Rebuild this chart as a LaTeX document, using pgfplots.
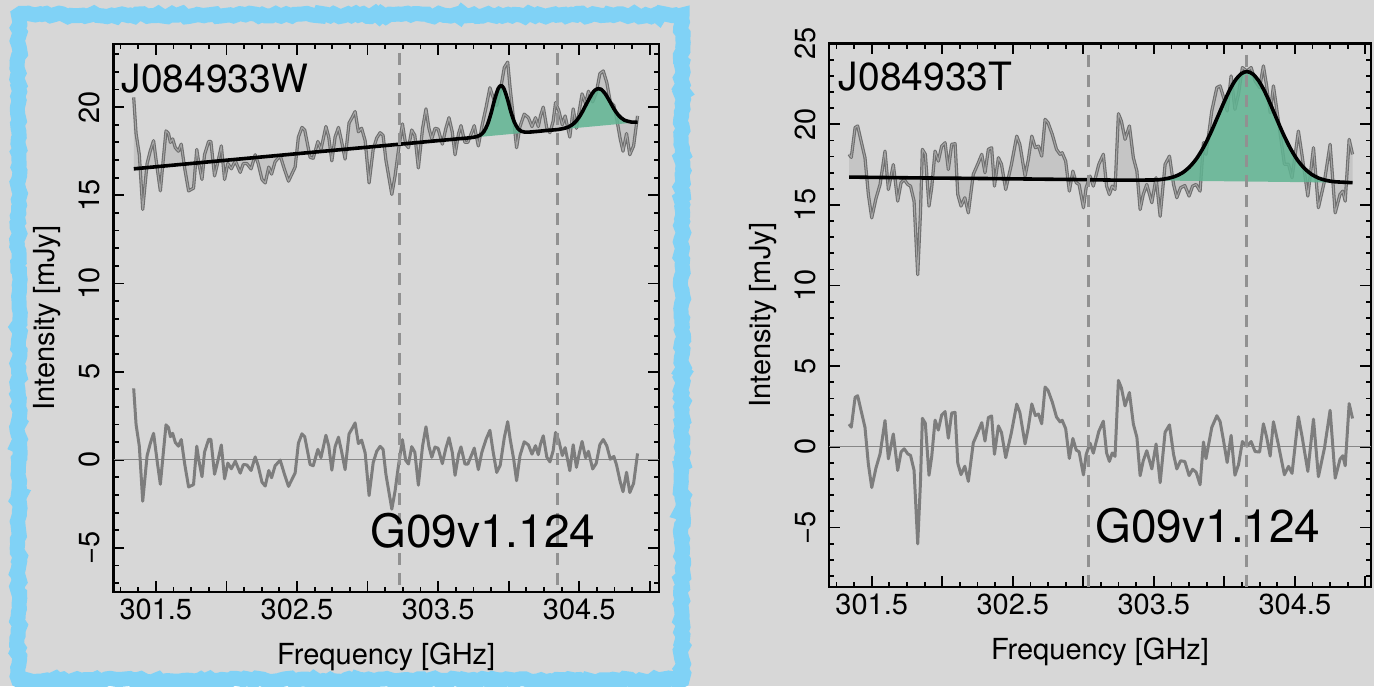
\documentclass[border=0pt]{standalone}
\usepackage{fontspec}
\setmainfont{TeX Gyre Heros}
\usepackage{pgfplots}
\pgfplotsset{compat=1.18}
\usepackage{pgfplotstable}
\usetikzlibrary{decorations.pathmorphing}

\definecolor{bg}{RGB}{215,215,215}
\definecolor{frameblue}{RGB}{128,210,246}
\definecolor{specdark}{RGB}{110,110,110}
\definecolor{speclight}{RGB}{165,165,165}
\definecolor{specfill}{RGB}{197,197,197}
\definecolor{resgray}{RGB}{125,125,125}
\definecolor{dashgray}{RGB}{145,145,145}
\definecolor{zerogray}{RGB}{135,135,135}
\definecolor{linegreen}{RGB}{96,180,146}

% ---------- left panel: spectrum (s) and residual (r) ----------
\pgfplotstableread{
x s r
301.343 20.55 4.05
301.360 18.50 1.99
301.383 17.30 0.77
301.407 14.20 -2.35
301.438 16.80 0.23
301.460 17.50 0.91
301.484 18.10 1.50
301.510 16.50 -0.12
301.532 15.25 -1.39
301.550 16.80 0.15
301.572 18.65 1.98
301.590 18.50 1.82
301.603 18.00 1.31
301.619 18.20 1.50
301.638 17.70 0.98
301.660 17.50 0.77
301.680 17.90 1.15
301.705 16.50 -0.27
301.732 15.25 -1.54
301.767 15.40 -1.41
301.790 17.60 0.77
301.805 16.80 -0.04
301.827 15.90 -0.96
301.845 17.30 0.43
301.874 18.05 1.16
301.890 18.05 1.15
301.916 16.10 -0.82
301.940 16.90 -0.04
301.964 17.80 0.84
301.987 15.90 -1.08
302.010 16.80 -0.19
302.035 16.50 -0.51
302.063 16.95 -0.08
302.098 16.30 -0.76
302.120 16.80 -0.27
302.145 16.80 -0.29
302.175 16.50 -0.61
302.204 17.30 0.16
302.225 16.80 -0.35
302.252 15.90 -1.27
302.275 15.70 -1.49
302.300 16.60 -0.61
302.320 16.20 -1.02
302.345 16.90 -0.34
302.381 17.25 -0.02
302.410 16.50 -0.79
302.440 15.80 -1.51
302.487 16.60 -0.75
302.510 18.30 0.94
302.535 18.85 1.47
302.555 18.70 1.30
302.593 17.15 -0.27
302.615 17.10 -0.34
302.648 18.05 0.59
302.670 17.60 0.12
302.705 18.90 1.39
302.725 18.30 0.78
302.747 16.95 -0.59
302.770 18.30 0.74
302.794 18.85 1.28
302.815 18.10 0.51
302.841 17.05 -0.56
302.869 19.10 1.47
302.890 19.40 1.76
302.912 19.75 2.09
302.935 18.60 0.92
302.958 18.80 1.11
302.983 18.10 0.39
303.011 15.70 -2.03
303.040 17.60 -0.16
303.065 18.25 0.48
303.089 18.55 0.76
303.110 18.40 0.59
303.130 17.00 -0.82
303.172 15.05 -2.80
303.195 16.10 -1.77
303.218 17.50 -0.39
303.247 19.05 1.14
303.270 17.90 -0.03
303.290 17.70 -0.24
303.313 18.70 0.74
303.335 18.40 0.43
303.360 16.55 -1.44
303.390 18.80 0.79
303.414 19.90 1.87
303.435 18.80 0.75
303.455 18.20 0.14
303.478 18.80 0.72
303.500 18.75 0.65
303.530 17.90 -0.22
303.555 18.80 0.66
303.577 19.40 1.25
303.600 18.60 0.43
303.620 17.30 -0.88
303.645 18.50 0.30
303.662 18.95 0.73
303.690 18.00 -0.24
303.710 18.00 -0.25
303.740 18.60 0.33
303.756 18.95 0.66
303.785 17.80 -0.56
303.810 18.90 0.43
303.840 20.00 1.17
303.867 21.10 1.67
303.890 20.55 0.44
303.915 20.10 -0.72
303.940 20.90 -0.31
303.969 22.25 1.26
303.993 22.55 2.16
304.010 21.10 1.20
304.035 19.30 0.05
304.056 17.70 -1.19
304.080 18.90 0.23
304.110 19.60 1.02
304.140 19.40 0.84
304.165 18.90 0.32
304.190 19.40 0.80
304.210 18.90 0.29
304.225 19.50 0.88
304.245 20.00 1.36
304.270 18.80 0.15
304.292 18.55 -0.12
304.315 19.20 0.51
304.332 20.25 1.55
304.355 19.80 1.08
304.380 19.00 0.24
304.400 19.50 0.69
304.433 18.30 -0.62
304.457 19.90 0.85
304.480 18.80 -0.43
304.500 19.80 0.36
304.520 20.75 1.04
304.545 20.20 0.11
304.565 20.90 0.48
304.595 20.30 -0.52
304.620 20.80 -0.21
304.646 21.90 0.86
304.670 22.05 1.15
304.695 21.40 0.79
304.720 20.30 0.03
304.745 20.10 0.19
304.764 19.40 -0.29
304.790 18.20 -1.24
304.810 17.50 -1.81
304.835 18.50 -0.71
304.858 17.30 -1.86
304.885 17.80 -1.34
304.913 19.50 0.36
}\dataL

% left panel: fitted model (continuum + two Gaussians)
\pgfplotstableread{
x f
301.344 16.50
301.800 16.84
302.300 17.21
302.800 17.58
303.300 17.95
303.500 18.10
303.600 18.17
303.650 18.21
303.700 18.24
303.750 18.29
303.775 18.33
303.800 18.42
303.825 18.62
303.850 19.02
303.875 19.65
303.900 20.42
303.925 21.04
303.945 21.22
303.965 21.07
303.990 20.49
304.015 19.75
304.040 19.15
304.065 18.79
304.090 18.63
304.115 18.58
304.140 18.58
304.200 18.62
304.275 18.68
304.350 18.73
304.400 18.81
304.425 18.88
304.450 19.00
304.475 19.18
304.500 19.44
304.525 19.78
304.550 20.17
304.590 20.75
304.610 20.95
304.634 21.05
304.655 21.01
304.680 20.80
304.700 20.55
304.720 20.27
304.745 19.91
304.770 19.62
304.795 19.40
304.820 19.26
304.870 19.15
304.913 19.15
}\fitL

% left panel: region between spectrum and model (spectrum, then model backwards)
\pgfplotstableread{
x y
301.343 20.55
301.360 18.50
301.383 17.30
301.407 14.20
301.438 16.80
301.460 17.50
301.484 18.10
301.510 16.50
301.532 15.25
301.550 16.80
301.572 18.65
301.590 18.50
301.603 18.00
301.619 18.20
301.638 17.70
301.660 17.50
301.680 17.90
301.705 16.50
301.732 15.25
301.767 15.40
301.790 17.60
301.805 16.80
301.827 15.90
301.845 17.30
301.874 18.05
301.890 18.05
301.916 16.10
301.940 16.90
301.964 17.80
301.987 15.90
302.010 16.80
302.035 16.50
302.063 16.95
302.098 16.30
302.120 16.80
302.145 16.80
302.175 16.50
302.204 17.30
302.225 16.80
302.252 15.90
302.275 15.70
302.300 16.60
302.320 16.20
302.345 16.90
302.381 17.25
302.410 16.50
302.440 15.80
302.487 16.60
302.510 18.30
302.535 18.85
302.555 18.70
302.593 17.15
302.615 17.10
302.648 18.05
302.670 17.60
302.705 18.90
302.725 18.30
302.747 16.95
302.770 18.30
302.794 18.85
302.815 18.10
302.841 17.05
302.869 19.10
302.890 19.40
302.912 19.75
302.935 18.60
302.958 18.80
302.983 18.10
303.011 15.70
303.040 17.60
303.065 18.25
303.089 18.55
303.110 18.40
303.130 17.00
303.172 15.05
303.195 16.10
303.218 17.50
303.247 19.05
303.270 17.90
303.290 17.70
303.313 18.70
303.335 18.40
303.360 16.55
303.390 18.80
303.414 19.90
303.435 18.80
303.455 18.20
303.478 18.80
303.500 18.75
303.530 17.90
303.555 18.80
303.577 19.40
303.600 18.60
303.620 17.30
303.645 18.50
303.662 18.95
303.690 18.00
303.710 18.00
303.740 18.60
303.756 18.95
303.785 17.80
303.810 18.90
303.840 20.00
303.867 21.10
303.890 20.55
303.915 20.10
303.940 20.90
303.969 22.25
303.993 22.55
304.010 21.10
304.035 19.30
304.056 17.70
304.080 18.90
304.110 19.60
304.140 19.40
304.165 18.90
304.190 19.40
304.210 18.90
304.225 19.50
304.245 20.00
304.270 18.80
304.292 18.55
304.315 19.20
304.332 20.25
304.355 19.80
304.380 19.00
304.400 19.50
304.433 18.30
304.457 19.90
304.480 18.80
304.500 19.80
304.520 20.75
304.545 20.20
304.565 20.90
304.595 20.30
304.620 20.80
304.646 21.90
304.670 22.05
304.695 21.40
304.720 20.30
304.745 20.10
304.764 19.40
304.790 18.20
304.810 17.50
304.835 18.50
304.858 17.30
304.885 17.80
304.913 19.50
304.913 19.15
304.870 19.15
304.820 19.26
304.795 19.40
304.770 19.62
304.745 19.91
304.720 20.27
304.700 20.55
304.680 20.80
304.655 21.01
304.634 21.05
304.610 20.95
304.590 20.75
304.550 20.17
304.525 19.78
304.500 19.44
304.475 19.18
304.450 19.00
304.425 18.88
304.400 18.81
304.350 18.73
304.140 18.58
304.115 18.58
304.090 18.63
304.065 18.79
304.040 19.15
304.015 19.75
303.990 20.49
303.965 21.07
303.945 21.22
303.925 21.04
303.900 20.42
303.875 19.65
303.850 19.02
303.825 18.62
303.800 18.42
303.775 18.33
303.750 18.29
303.700 18.24
301.344 16.50
}\polyL

% left panel: line emission (model above continuum)
\pgfplotstableread{
x y
303.700 18.24
303.750 18.29
303.775 18.33
303.800 18.42
303.825 18.62
303.850 19.02
303.875 19.65
303.900 20.42
303.925 21.04
303.945 21.22
303.965 21.07
303.990 20.49
304.015 19.75
304.040 19.15
304.065 18.79
304.090 18.63
304.115 18.58
304.140 18.58
304.350 18.73
304.400 18.81
304.425 18.88
304.450 19.00
304.475 19.18
304.500 19.44
304.525 19.78
304.550 20.17
304.590 20.75
304.610 20.95
304.634 21.05
304.655 21.01
304.680 20.80
304.700 20.55
304.720 20.27
304.745 19.91
304.770 19.62
304.795 19.40
304.820 19.26
304.870 19.15
304.913 19.15
304.913 19.14
303.700 18.24
}\greenL

% ---------- right panel ----------
\pgfplotstableread{
x s r
301.339 18.14 1.41
301.355 17.95 1.22
301.382 19.80 3.07
301.400 19.90 3.17
301.430 18.76 2.04
301.452 17.93 1.21
301.476 15.65 -1.07
301.500 14.20 -2.52
301.530 15.40 -1.31
301.559 16.27 -0.44
301.594 18.34 1.63
301.618 15.96 -0.74
301.653 17.50 0.80
301.684 15.24 -1.46
301.708 16.38 -0.32
301.730 16.58 -0.12
301.755 16.27 -0.43
301.775 16.17 -0.53
301.800 15.24 -1.45
301.826 10.68 -6.01
301.845 14.41 -2.29
301.859 18.45 1.77
301.880 18.14 1.46
301.906 14.93 -1.76
301.925 16.07 -0.62
301.949 18.34 1.66
301.972 17.72 1.04
301.996 18.65 1.98
302.020 18.86 2.19
302.043 17.20 0.54
302.067 18.76 2.10
302.091 18.80 2.14
302.110 15.65 -1.01
302.133 14.93 -1.72
302.160 15.45 -1.20
302.185 14.51 -2.14
302.220 16.90 0.25
302.256 17.62 0.98
302.280 18.14 1.50
302.303 17.00 0.36
302.327 18.45 1.82
302.350 18.55 1.92
302.370 16.17 -0.46
302.398 17.93 1.30
302.420 17.52 0.89
302.450 15.96 -0.67
302.490 17.50 0.88
302.528 19.27 2.65
302.550 18.76 2.14
302.587 16.79 0.18
302.610 17.80 1.19
302.635 19.27 2.66
302.660 18.55 1.94
302.682 18.65 2.04
302.705 18.03 1.43
302.729 20.31 3.71
302.750 20.10 3.50
302.780 19.38 2.78
302.810 18.45 1.85
302.835 18.14 1.55
302.850 18.24 1.65
302.875 17.72 1.13
302.901 15.86 -0.72
302.926 17.10 0.52
302.950 16.38 -0.20
302.970 16.27 -0.30
303.001 14.83 -1.74
303.020 16.07 -0.49
303.048 16.79 0.23
303.071 16.17 -0.39
303.110 17.52 0.96
303.142 18.14 1.59
303.165 16.17 -0.38
303.185 15.65 -0.90
303.205 16.17 -0.38
303.225 15.96 -0.59
303.249 20.66 4.12
303.270 20.20 3.66
303.296 19.07 2.54
303.327 19.90 3.37
303.355 17.93 1.41
303.380 17.10 0.59
303.403 14.72 -1.79
303.425 15.65 -0.86
303.450 16.27 -0.24
303.486 15.14 -1.37
303.516 16.69 0.18
303.545 14.30 -2.22
303.580 17.52 0.91
303.611 18.03 1.36
303.640 16.27 -0.47
303.663 15.45 -1.37
303.690 16.07 -0.86
303.720 16.20 -0.91
303.750 15.55 -1.78
303.775 16.17 -1.39
303.800 16.27 -1.57
303.828 15.86 -2.35
303.852 18.86 0.30
303.870 18.14 -0.73
303.911 20.83 1.21
303.947 22.28 1.93
303.970 22.38 1.57
303.995 21.66 0.35
304.020 20.83 -0.97
304.048 23.00 0.71
304.075 20.93 -1.76
304.100 21.86 -1.12
304.128 23.52 0.33
304.160 23.31 0.04
304.190 23.52 0.33
304.218 22.69 -0.29
304.250 22.28 -0.32
304.277 23.62 1.43
304.300 22.38 0.60
304.325 20.72 -0.57
304.348 22.38 1.56
304.380 20.42 0.27
304.426 17.52 -1.73
304.455 17.52 -1.21
304.480 16.69 -1.64
304.525 19.58 1.87
304.550 18.14 0.70
304.592 15.55 -1.52
304.632 18.55 1.72
304.667 14.83 -1.85
304.710 16.48 -0.07
304.750 18.76 2.27
304.786 14.51 -1.94
304.820 15.65 -0.77
304.840 15.86 -0.55
304.857 15.24 -1.17
304.885 19.07 2.68
304.909 18.14 1.76
}\dataR

\pgfplotstableread{
x f
301.339 16.73
301.800 16.68
302.300 16.64
302.800 16.59
303.000 16.57
303.250 16.54
303.500 16.55
303.550 16.58
303.600 16.65
303.650 16.77
303.700 16.98
303.750 17.33
303.800 17.84
303.850 18.54
303.900 19.41
303.950 20.41
304.000 21.42
304.040 22.16
304.080 22.76
304.120 23.14
304.160 23.27
304.200 23.13
304.240 22.74
304.280 22.14
304.320 21.39
304.370 20.36
304.420 19.36
304.470 18.48
304.520 17.77
304.570 17.25
304.620 16.89
304.670 16.66
304.720 16.53
304.770 16.45
304.820 16.42
304.909 16.38
}\fitR

\pgfplotstableread{
x y
301.339 18.14
301.355 17.95
301.382 19.80
301.400 19.90
301.430 18.76
301.452 17.93
301.476 15.65
301.500 14.20
301.530 15.40
301.559 16.27
301.594 18.34
301.618 15.96
301.653 17.50
301.684 15.24
301.708 16.38
301.730 16.58
301.755 16.27
301.775 16.17
301.800 15.24
301.826 10.68
301.845 14.41
301.859 18.45
301.880 18.14
301.906 14.93
301.925 16.07
301.949 18.34
301.972 17.72
301.996 18.65
302.020 18.86
302.043 17.20
302.067 18.76
302.091 18.80
302.110 15.65
302.133 14.93
302.160 15.45
302.185 14.51
302.220 16.90
302.256 17.62
302.280 18.14
302.303 17.00
302.327 18.45
302.350 18.55
302.370 16.17
302.398 17.93
302.420 17.52
302.450 15.96
302.490 17.50
302.528 19.27
302.550 18.76
302.587 16.79
302.610 17.80
302.635 19.27
302.660 18.55
302.682 18.65
302.705 18.03
302.729 20.31
302.750 20.10
302.780 19.38
302.810 18.45
302.835 18.14
302.850 18.24
302.875 17.72
302.901 15.86
302.926 17.10
302.950 16.38
302.970 16.27
303.001 14.83
303.020 16.07
303.048 16.79
303.071 16.17
303.110 17.52
303.142 18.14
303.165 16.17
303.185 15.65
303.205 16.17
303.225 15.96
303.249 20.66
303.270 20.20
303.296 19.07
303.327 19.90
303.355 17.93
303.380 17.10
303.403 14.72
303.425 15.65
303.450 16.27
303.486 15.14
303.516 16.69
303.545 14.30
303.580 17.52
303.611 18.03
303.640 16.27
303.663 15.45
303.690 16.07
303.720 16.20
303.750 15.55
303.775 16.17
303.800 16.27
303.828 15.86
303.852 18.86
303.870 18.14
303.911 20.83
303.947 22.28
303.970 22.38
303.995 21.66
304.020 20.83
304.048 23.00
304.075 20.93
304.100 21.86
304.128 23.52
304.160 23.31
304.190 23.52
304.218 22.69
304.250 22.28
304.277 23.62
304.300 22.38
304.325 20.72
304.348 22.38
304.380 20.42
304.426 17.52
304.455 17.52
304.480 16.69
304.525 19.58
304.550 18.14
304.592 15.55
304.632 18.55
304.667 14.83
304.710 16.48
304.750 18.76
304.786 14.51
304.820 15.65
304.840 15.86
304.857 15.24
304.885 19.07
304.909 18.14
304.909 16.38
304.820 16.42
304.720 16.53
304.670 16.66
304.620 16.89
304.570 17.25
304.520 17.77
304.470 18.48
304.420 19.36
304.370 20.36
304.320 21.39
304.280 22.14
304.240 22.74
304.200 23.13
304.160 23.27
304.120 23.14
304.080 22.76
304.040 22.16
304.000 21.42
303.950 20.41
303.900 19.41
303.850 18.54
303.800 17.84
303.750 17.33
303.700 16.98
303.650 16.77
303.600 16.65
303.500 16.55
303.000 16.57
301.339 16.73
}\polyR

\pgfplotstableread{
x y
303.500 16.55
303.600 16.65
303.650 16.77
303.700 16.98
303.750 17.33
303.800 17.84
303.850 18.54
303.900 19.41
303.950 20.41
304.000 21.42
304.040 22.16
304.080 22.76
304.120 23.14
304.160 23.27
304.200 23.13
304.240 22.74
304.280 22.14
304.320 21.39
304.370 20.36
304.420 19.36
304.470 18.48
304.520 17.77
304.570 17.25
304.620 16.89
304.670 16.66
304.720 16.53
304.820 16.42
304.909 16.38
303.500 16.52
}\greenR

\pgfplotsset{
  panel/.style={
    scale only axis,
    anchor=south west,
    axis line style={line width=1.4pt, black},
    every tick/.style={black, line width=0.9pt},
    major tick length=5.3pt,
    minor tick length=2.7pt,
    tick align=inside,
    xtick pos=both, ytick pos=both,
    xticklabel pos=bottom, yticklabel pos=left,
    tick label style={font=\fontsize{14.5}{16}\selectfont},
    label style={font=\fontsize{14.5}{16}\selectfont},
    xtick={301.5,302,302.5,303,303.5,304,304.5,305},
    xticklabels={301.5,,302.5,,303.5,,304.5,},
    minor xtick={301.25,301.375,301.5,301.625,301.75,301.875,302,302.125,302.25,302.375,302.5,302.625,302.75,302.875,303,303.125,303.25,303.375,303.5,303.625,303.75,303.875,304,304.125,304.25,304.375,304.5,304.625,304.75,304.875,305},
    yticklabel style={rotate=90, anchor=south, inner ysep=6.5pt},
    xlabel={Frequency [GHz]},
    ylabel={Intensity [mJy]},
    xlabel style={at={(axis description cs:0.5,-0.1186)}, anchor=center},
    ylabel style={at={(axis description cs:-0.122,0.5)}, anchor=center},
  },
  specline/.style={specdark, line width=1.6pt, line join=round},
  speccore/.style={speclight, line width=0.5pt, line join=round},
  resline/.style={resgray, line width=1.5pt, line join=round},
  fitline/.style={black, line width=1.8pt, line join=round, smooth, tension=0.5},
  vdash/.style={dashgray, line width=1.5pt, dash pattern=on 6.2pt off 3.8pt},
  zline/.style={zerogray, line width=0.6pt},
}

\begin{document}
\begin{tikzpicture}
\fill[bg] (0,0) rectangle (687pt,343pt);
\draw[frameblue, line width=7.5pt, decorate, decoration={random steps, segment length=2pt, amplitude=0.9pt}] (9.25pt,3pt) rectangle (341pt,335.5pt);

% ---------------- left panel ----------------
\begin{axis}[panel, at={(56.75pt,47pt)}, width=272.75pt, height=274pt,
  xmin=301.2, xmax=305.065, ymin=-7.5, ymax=23.58,
  ytick={-5,0,5,10,15,20}, yticklabels={−5,0,5,10,15,20},
  minor ytick={-7,-6,...,23}]
  \addplot[fill=specfill, draw=none] table[x=x, y=y] {\polyL};
  \addplot[specline] table[x=x, y=s] {\dataL};
  \addplot[speccore] table[x=x, y=s] {\dataL};
  \addplot[fill=linegreen, fill opacity=0.85, draw=none] table[x=x, y=y] {\greenL};
  \addplot[fitline] table[x=x, y=f] {\fitL};
  \addplot[zline] coordinates {(301.2,0) (305.065,0)};
  \addplot[resline] table[x=x, y=r] {\dataL};
  \addplot[vdash] coordinates {(303.227,23.08) (303.227,-7.5)};
  \addplot[vdash] coordinates {(304.343,23.08) (304.343,-7.5)};
  \node[anchor=base west, inner sep=0pt, font=\fontsize{19.5}{22}\selectfont] at (rel axis cs:0.014,0.9115) {J084933W};
  \node[anchor=base west, inner sep=0pt, font=\fontsize{23}{26}\selectfont] at (rel axis cs:0.470,0.081) {G09v1.124};
\end{axis}

% ---------------- right panel ----------------
\begin{axis}[panel, at={(414.5pt,49.5pt)}, width=271pt, height=271.65pt,
  xmin=301.197, xmax=305.04, ymin=-8.69, ymax=25,
  ytick={-5,0,5,10,15,20,25}, yticklabels={−5,0,5,10,15,20,25},
  minor ytick={-8,-7,...,25}]
  \addplot[fill=specfill, draw=none] table[x=x, y=y] {\polyR};
  \addplot[specline] table[x=x, y=s] {\dataR};
  \addplot[speccore] table[x=x, y=s] {\dataR};
  \addplot[fill=linegreen, fill opacity=0.85, draw=none] table[x=x, y=y] {\greenR};
  \addplot[fitline] table[x=x, y=f] {\fitR};
  \addplot[zline] coordinates {(301.197,0) (305.04,0)};
  \addplot[resline] table[x=x, y=r] {\dataR};
  \addplot[vdash] coordinates {(303.04,24.3) (303.04,-8.69)};
  \addplot[vdash] coordinates {(304.154,24.3) (304.154,-8.69)};
  \node[anchor=base west, inner sep=0pt, font=\fontsize{19.5}{22}\selectfont] at (rel axis cs:0.0175,0.913) {J084933T};
  \node[anchor=base west, inner sep=0pt, font=\fontsize{23}{26}\selectfont] at (rel axis cs:0.491,0.081) {G09v1.124};
\end{axis}
\pgfresetboundingbox
\useasboundingbox (0,0) rectangle (687pt,343pt);
\end{tikzpicture}
\end{document}
